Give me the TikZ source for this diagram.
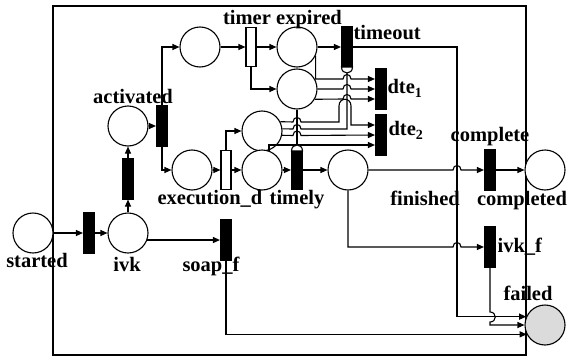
\documentclass[tikz,border=0pt]{standalone}
\usepackage{fontspec}
\setmainfont{Liberation Serif}
\usetikzlibrary{arrows.meta}
\begin{document}
\begin{tikzpicture}[x=1pt,y=-1pt,line width=1.1pt,
  place/.style={circle,draw,minimum size=40pt,inner sep=0pt,fill=white},
  btr/.style={rectangle,fill=black,draw=black,minimum width=11pt,minimum height=40pt,inner sep=0pt},
  wtr/.style={rectangle,fill=white,draw=black,minimum width=10pt,minimum height=39pt,inner sep=0pt},
  lbl/.style={font=\fontsize{20.5}{22}\selectfont\bfseries,inner sep=0pt,anchor=base},
  arr/.style={-{Triangle[length=7pt,width=6pt]}},
  dome/.style={fill=white,draw=black}]
\useasboundingbox (0,0) rectangle (570,356);
\draw (53,6) rectangle (526,355);
% places and transitions
\node[place] (started) at (33,233) {};
\node[btr] (t1) at (89,233) {};
\node[place] (ivk) at (128,233) {};
\node[btr] (tup) at (128,179) {};
\node[place] (activated) at (128,126) {};
\node[btr] (tact) at (162,126) {};
\node[place] (pw) at (200,47) {};
\node[wtr] (timer) at (251,47) {};
\node[place] (expired) at (297,47) {};
\node[place] (p2) at (297,89) {};
\node[btr] (timeout) at (347,47) {};
\node[btr] (dte1) at (381,89) {};
\node[btr] (dte2) at (381,135) {};
\node[place] (execd) at (192,170) {};
\node[wtr] (texec) at (226,170) {};
\node[place] (p3) at (262,131) {};
\node[place] (p4) at (262,170) {};
\node[btr,minimum height=38pt] (timely) at (297,170) {};
\node[place] (finished) at (348,170) {};
\node[btr] (complete) at (490,170) {};
\node[place] (completed) at (545,170) {};
\node[btr] (ivkf) at (490,247) {};
\node[place,fill=black!14] (failed) at (545,325) {};
\node[btr] (soapf) at (226,240) {};
\coordinate (c1) at (457,47);
% connectors
\draw[arr] (started) -- (t1);
\draw[arr] (t1) -- (ivk);
\draw[arr] (ivk) -- (tup);
\draw[arr] (tup) -- (activated);
\draw[arr] (activated) -- (tact);
\draw[arr] (tact.north) |- (pw);
\draw[arr] (tact.south) |- (execd);
\draw[arr] (pw) -- (timer);
\draw[arr] (timer) -- (expired);
\draw[arr] (timer.south) |- (p2);
\draw[arr] (expired) -- (timeout);
\draw[arr] (execd) -- (texec);
\draw[arr] (texec) -- (p4);
\draw[arr] (texec.north) |- (p3);
\draw[arr] (p4) -- (timely);
\draw[arr] (timely) -- (finished);
\draw[arr] (ivk.-20) -- (ivk.-20 -| soapf.west);
\draw[arr] (complete) -- (completed);
\draw[arr] (timeout.east) -- (c1) |- (failed.156);
\draw[arr] (ivkf.south) -- (490,312) .. controls (497,312) and (497,322) .. (490,322) |- (failed.west);
\draw[arr] (soapf.south) |- (failed.207);
\draw[arr] (finished.east) -- (453,170) .. controls (453,164) and (461,164) .. (461,170) -- (complete.west);
\draw[arr] (finished.south) |- (453,247) .. controls (453,241) and (461,241) .. (461,247) -- (ivkf.west);
% dead token elimination inputs
\draw[arr] (expired.-25) |- (343,79) .. controls (343,73) and (351,73) .. (351,79) -- ([yshift=10pt]dte1.west);
\draw[arr] (p2.east) -- (343,89) .. controls (343,83) and (351,83) .. (351,89) -- (dte1.west);
\draw[arr] (p2.-30) -- (343,99) .. controls (343,93) and (351,93) .. (351,99) -- ([yshift=-10pt]dte1.west);
\draw[arr] (p3.27) -- (293,122) .. controls (293,116) and (301,116) .. (301,122) -- (339,122) -- (339,106) .. controls (339,97) and (351,97) .. (351,106) -- (351,125) -- ([yshift=10pt]dte2.west);
\draw[arr] (p3.-12) -- (293,135.5) .. controls (293,129.5) and (301,129.5) .. (301,135.5) -- (dte2.west);
\draw[arr] (p4.70) |- ([yshift=-10pt]dte2.west);
\draw (p3.6) -- (293,129) .. controls (293,123) and (301,123) .. (301,129) -- (347,129) -- (347,73);
\draw (p2.south) -- (297,145);
\draw[dome] (291.5,151) .. controls (291.5,143) and (302.5,143) .. (302.5,151) -- cycle;
\draw[dome] (341.5,67) .. controls (341.5,75) and (352.5,75) .. (352.5,67) -- cycle;
% labels
\node[lbl] at (37,267) {started};
\node[lbl] at (127,271) {ivk};
\node[lbl] at (211,271) {soap\_f};
\node[lbl] at (133,103) {activated};
\node[lbl] at (210,204) {execution\_d};
\node[lbl] at (297,204) {timely};
\node[lbl] at (425,205) {finished};
\node[lbl] at (522,205) {completed};
\node[lbl] at (490,141) {complete};
\node[lbl,anchor=base west] at (497,252) {ivk\_f};
\node[lbl] at (528,300) {failed};
\node[lbl] at (247,24) {timer};
\node[lbl] at (309,24) {expired};
\node[lbl,anchor=base west] at (353,39) {timeout};
\node[lbl,anchor=base west] at (387,93) {dte\raisebox{-4pt}{\fontsize{14}{14}\selectfont 1}};
\node[lbl,anchor=base west] at (388,135) {dte\raisebox{-4pt}{\fontsize{14}{14}\selectfont 2}};
\end{tikzpicture}
\end{document}
